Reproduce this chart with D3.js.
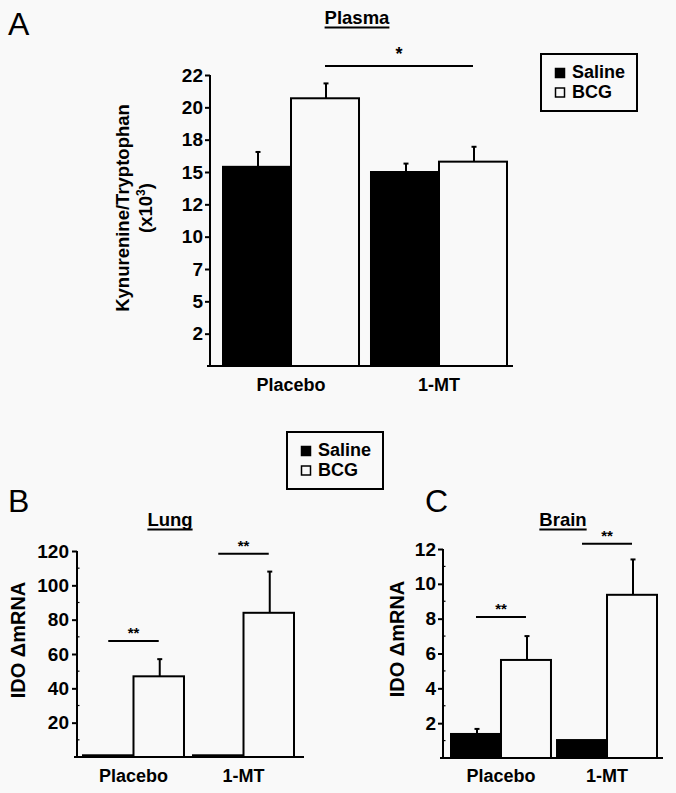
<!DOCTYPE html>
<html>
<head>
<meta charset="utf-8">
<script src="https://cdn.jsdelivr.net/npm/d3@7"></script>
<style>
  html, body { margin: 0; padding: 0; background: #f9f9f9; }
  svg { display: block; }
  text { font-family: "Liberation Sans", Arial, Helvetica, sans-serif; fill: #000; }
</style>
</head>
<body>
<svg id="chart" width="676" height="793"></svg>
<script>
// ---------------- DATA ----------------
const groups = ["Placebo", "1-MT"];
const series = ["Saline", "BCG"];

// Panel A: Plasma Kynurenine/Tryptophan (x10^3)
const plasmaSaline = [15.4, 15.0];
const plasmaBCG = [20.7, 15.8];
const plasmaSalineErr = [1.15, 0.65];
const plasmaBCGErr = [1.15, 1.15];
const plasmaTicks = [2.5, 5, 7.5, 10, 12.5, 15, 17.5, 20, 22.5];
const plasmaTickLabels = ["2", "5", "7", "10", "12", "15", "18", "20", "22"];

// Panel B: Lung IDO ΔmRNA
const lungSaline = [1.0, 1.0];
const lungBCG = [47, 84];
const lungSalineErr = [0, 0];
const lungBCGErr = [10, 24];
const lungTicks = [20, 40, 60, 80, 100, 120];

// Panel C: Brain IDO ΔmRNA
const brainSaline = [1.38, 1.03];
const brainBCG = [5.63, 9.37];
const brainSalineErr = [0.29, 0];
const brainBCGErr = [1.37, 2.03];
const brainTicks = [2, 4, 6, 8, 10, 12];

// ---------------- DRAW ----------------
const svg = d3.select("#chart");
const BG = "#f9f9f9";
const FONT = 18;

function panel(cfg) {
  const g = svg.append("g");
  const y = d3.scaleLinear().domain(cfg.yDomain).range([cfg.baseY, cfg.topY]);
  const x0 = d3.scaleBand().domain(groups).range(cfg.groupRange).paddingInner(cfg.pad).paddingOuter(0);
  const x1 = d3.scaleBand().domain(series).range([0, x0.bandwidth()]).padding(0);

  const rows = groups.map((grp, i) => ({
    group: grp,
    values: [
      { s: "Saline", v: cfg.saline[i], e: cfg.salineErr[i] },
      { s: "BCG", v: cfg.bcg[i], e: cfg.bcgErr[i] }
    ]
  }));

  // bars
  rows.forEach(r => {
    r.values.forEach(d => {
      const bx = x0(r.group) + x1(d.s);
      g.append("rect")
        .attr("x", bx)
        .attr("y", y(d.v))
        .attr("width", x1.bandwidth())
        .attr("height", y(0) - y(d.v))
        .attr("fill", d.s === "Saline" ? "#000" : BG)
        .attr("stroke", "#000")
        .attr("stroke-width", 2);
      if (d.e > 0) {
        const cx = bx + x1.bandwidth() / 2 + 1;
        g.append("line")
          .attr("x1", cx).attr("x2", cx)
          .attr("y1", y(d.v)).attr("y2", y(d.v + d.e))
          .attr("stroke", "#000").attr("stroke-width", 2);
        g.append("line")
          .attr("x1", cx - 2.5).attr("x2", cx + 2.5)
          .attr("y1", y(d.v + d.e)).attr("y2", y(d.v + d.e))
          .attr("stroke", "#000").attr("stroke-width", 2);
      }
    });
  });

  // y axis
  const yAxis = d3.axisLeft(y)
    .tickValues(cfg.ticks)
    .tickSize(cfg.tickLen)
    .tickPadding(cfg.tickPad)
    .tickFormat((d, i) => cfg.tickLabels ? cfg.tickLabels[i] : d3.format("d")(d));
  const ya = g.append("g").attr("transform", `translate(${cfg.axisX},0)`).call(yAxis);
  ya.select(".domain").remove();
  ya.selectAll(".tick line").attr("stroke", "#000").attr("stroke-width", 2);
  ya.selectAll(".tick text")
    .attr("font-size", cfg.tickFont)
    .attr("font-weight", "bold")
    .attr("font-family", "Liberation Sans, Arial, sans-serif");
  g.append("line")
    .attr("x1", cfg.axisX).attr("x2", cfg.axisX)
    .attr("y1", y(0)).attr("y2", y(cfg.yDomain[1]))
    .attr("stroke", "#000").attr("stroke-width", 2);

  // minor ticks (inside)
  if (cfg.minor) {
    cfg.minor.forEach(m => {
      g.append("line")
        .attr("x1", cfg.axisX).attr("x2", cfg.axisX + 2.5)
        .attr("y1", y(m)).attr("y2", y(m))
        .attr("stroke", "#000").attr("stroke-width", 1.2);
    });
  }

  // x axis line
  g.append("line")
    .attr("x1", cfg.axisX - 3).attr("x2", cfg.xEnd)
    .attr("y1", y(0)).attr("y2", y(0))
    .attr("stroke", "#000").attr("stroke-width", 2);

  // category labels
  groups.forEach(grp => {
    g.append("text")
      .attr("x", x0(grp) + x0.bandwidth() / 2)
      .attr("y", cfg.catY)
      .attr("text-anchor", "middle")
      .attr("font-size", FONT)
      .attr("font-weight", "bold")
      .text(grp);
  });

  // y label
  cfg.yLabel.forEach((line, i) => {
    const t = g.append("text")
      .attr("transform", `translate(${line.x},${cfg.yLabelCY}) rotate(-90)`)
      .attr("text-anchor", "middle")
      .attr("font-size", cfg.yLabelFont)
      .attr("font-weight", "bold");
    if (line.sup) {
      t.append("tspan").text(line.text);
      t.append("tspan").attr("dy", -7).attr("font-size", cfg.yLabelFont * 0.65).text(line.sup);
      t.append("tspan").attr("dy", 7).text(line.after);
    } else {
      t.text(line.text);
    }
  });

  // title (underlined)
  const title = g.append("text")
    .attr("x", cfg.titleX).attr("y", cfg.titleY)
    .attr("text-anchor", "middle")
    .attr("font-size", FONT + 0.5)
    .attr("font-weight", "bold")
    .text(cfg.title);
  const tw = title.node().getComputedTextLength();
  g.append("line")
    .attr("x1", cfg.titleX - tw / 2).attr("x2", cfg.titleX + tw / 2)
    .attr("y1", cfg.titleY + 3.5).attr("y2", cfg.titleY + 3.5)
    .attr("stroke", "#000").attr("stroke-width", 2);

  // panel letter
  g.append("text")
    .attr("x", cfg.letterX).attr("y", cfg.letterY)
    .attr("font-size", 32)
    .attr("font-weight", "normal")
    .text(cfg.letter);

  // significance
  cfg.sig.forEach(s => {
    const xa = x0(s.from[0]) + x1(s.from[1]) + x1.bandwidth() / 2;
    const xb = x0(s.to[0]) + x1(s.to[1]) + x1.bandwidth() / 2;
    g.append("line")
      .attr("x1", xa).attr("x2", xb)
      .attr("y1", y(s.level)).attr("y2", y(s.level))
      .attr("stroke", "#000").attr("stroke-width", 2);
    g.append("text")
      .attr("x", (xa + xb) / 2)
      .attr("y", y(s.level) - s.gap)
      .attr("text-anchor", "middle")
      .attr("font-size", s.size)
      .attr("font-weight", "bold")
      .text(s.label);
  });
}

function legend(x, y) {
  const g = svg.append("g").attr("transform", `translate(${x},${y})`);
  g.append("rect").attr("x", 0).attr("y", 0).attr("width", 96).attr("height", 57)
    .attr("fill", BG).attr("stroke", "#000").attr("stroke-width", 2);
  series.forEach((s, i) => {
    const by = 24 + i * 19.5;
    g.append("rect")
      .attr("x", 14.5).attr("y", by - 9.5)
      .attr("width", 9).attr("height", 9)
      .attr("fill", s === "Saline" ? "#000" : BG)
      .attr("stroke", "#000").attr("stroke-width", 1.5);
    g.append("text")
      .attr("x", 31).attr("y", by)
      .attr("font-size", FONT)
      .attr("font-weight", "bold")
      .text(s);
  });
}

// Panel A
panel({
  yDomain: [0, 22.5], baseY: 366, topY: 75,
  groupRange: [223, 507], pad: 0.081,
  saline: plasmaSaline, bcg: plasmaBCG, salineErr: plasmaSalineErr, bcgErr: plasmaBCGErr,
  ticks: plasmaTicks, tickLabels: plasmaTickLabels,
  tickLen: 5, tickPad: 2, tickFont: 19,
  axisX: 210, xEnd: 513, catY: 391,
  yLabel: [{ text: "Kynurenine/Tryptophan", x: 129 }, { text: "(x10", sup: "3", after: ")", x: 152 }],
  yLabelCY: 208, yLabelFont: 18.5,
  title: "Plasma", titleX: 357, titleY: 24,
  letter: "A", letterX: 8, letterY: 35,
  sig: [{ from: ["Placebo", "BCG"], to: ["1-MT", "BCG"], level: 23.2, label: "*", gap: 6, size: 18 }]
});

// Panel B
panel({
  yDomain: [0, 120], baseY: 757, topY: 551,
  groupRange: [83, 294], pad: 0.082,
  saline: lungSaline, bcg: lungBCG, salineErr: lungSalineErr, bcgErr: lungBCGErr,
  ticks: lungTicks, tickLabels: null,
  tickLen: 5, tickPad: 3, tickFont: 19,
  minor: [10, 30, 50, 70, 90, 110],
  axisX: 77, xEnd: 304, catY: 782,
  yLabel: [{ text: "IDO ΔmRNA", x: 25 }],
  yLabelCY: 640, yLabelFont: 20,
  title: "Lung", titleX: 170, titleY: 526,
  letter: "B", letterX: 8, letterY: 512,
  sig: [
    { from: ["Placebo", "Saline"], to: ["Placebo", "BCG"], level: 67.6, label: "**", gap: 3, size: 15 },
    { from: ["1-MT", "Saline"], to: ["1-MT", "BCG"], level: 118.4, label: "**", gap: 3, size: 15 }
  ]
});

// Panel C
panel({
  yDomain: [0, 12], baseY: 758, topY: 549,
  groupRange: [451, 657], pad: 0.057,
  saline: brainSaline, bcg: brainBCG, salineErr: brainSalineErr, bcgErr: brainBCGErr,
  ticks: brainTicks, tickLabels: null,
  tickLen: 5, tickPad: 2, tickFont: 19,
  minor: [1, 3, 5, 7, 9, 11],
  axisX: 443, xEnd: 663, catY: 782,
  yLabel: [{ text: "IDO ΔmRNA", x: 404 }],
  yLabelCY: 639, yLabelFont: 20,
  title: "Brain", titleX: 563, titleY: 526,
  letter: "C", letterX: 425, letterY: 512,
  sig: [
    { from: ["Placebo", "Saline"], to: ["Placebo", "BCG"], level: 8.1, label: "**", gap: 3, size: 15 },
    { from: ["1-MT", "Saline"], to: ["1-MT", "BCG"], level: 12.3, label: "**", gap: 3, size: 15 }
  ]
});

legend(541, 54);
legend(287, 432);
</script>
</body>
</html>
